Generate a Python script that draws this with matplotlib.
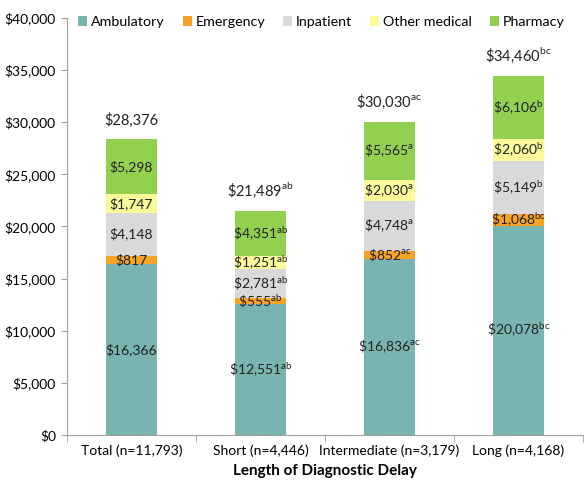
import matplotlib
matplotlib.use("Agg")
import matplotlib.pyplot as plt
import numpy as np

plt.rcParams['font.family'] = ['Lato', 'DejaVu Sans']
plt.rcParams['mathtext.fontset'] = 'custom'
plt.rcParams['mathtext.rm'] = 'Lato'

categories = ["Total (n=11,793)", "Short (n=4,446)", "Intermediate (n=3,179)", "Long (n=4,168)"]
series_names = ["Ambulatory", "Emergency", "Inpatient", "Other medical", "Pharmacy"]
ambulatory = [16366, 12551, 16836, 20078]
emergency = [817, 555, 852, 1068]
inpatient = [4148, 2781, 4748, 5149]
other_medical = [1747, 1251, 2030, 2060]
pharmacy = [5298, 4351, 5565, 6106]
totals = [28376, 21489, 30030, 34460]

amb_sup = ["", "ab", "ac", "bc"]
em_sup = ["", "ab", "ac", "bc"]
inp_sup = ["", "ab", "a", "b"]
oth_sup = ["", "ab", "a", "b"]
ph_sup = ["", "ab", "a", "b"]
tot_sup = ["", "ab", "ac", "bc"]

colors = ["#7AB4B0", "#F7A325", "#D9D9D9", "#FAFA9A", "#92D050"]

series = [ambulatory, emergency, inpatient, other_medical, pharmacy]
sups = [amb_sup, em_sup, inp_sup, oth_sup, ph_sup]

fig = plt.figure(figsize=(5.84, 4.8), dpi=100)
ax = fig.add_axes([0.1147, 0.094, 0.8833, 0.8685])

x = np.arange(len(categories))
bottom = np.zeros(len(categories))


def label(val, sup):
    s = r"\$" + f"{val:,}"
    if sup:
        s += r"$^{\mathregular{" + sup + "}}$"
    return s


for name, vals, col, sp in zip(series_names, series, colors, sups):
    v = np.array(vals, dtype=float)
    ax.bar(x, v, 0.4, bottom=bottom, color=col, label=name, linewidth=0)
    for i in range(len(x)):
        ax.text(x[i], bottom[i] + v[i] / 2, label(vals[i], sp[i]),
                ha="center", va="center", fontsize=10, color="#222222")
    bottom += v

for i in range(len(x)):
    ax.annotate(label(totals[i], tot_sup[i]), (x[i], totals[i]),
                xytext=(0, 8), textcoords="offset points",
                ha="center", va="bottom", fontsize=10.5, color="#222222")

ax.set_xlim(-0.5, len(categories) - 0.5)
ax.set_ylim(0, 40000)
ax.set_yticks(np.arange(0, 40001, 5000))
ax.set_yticklabels([r"\$" + f"{t:,}" for t in range(0, 40001, 5000)], fontsize=10)
ax.set_xticks(x)
ax.set_xticklabels(categories, fontsize=10)
ax.set_xticks(np.arange(-0.5, len(categories)), minor=True)
ax.tick_params(axis="x", which="major", length=0, pad=7)
ax.tick_params(axis="x", which="minor", length=5, color="#A0A0A0")
ax.tick_params(axis="y", length=4, color="#A0A0A0", pad=4)
for s in ["top", "right"]:
    ax.spines[s].set_visible(False)
for s in ["left", "bottom"]:
    ax.spines[s].set_color("#A0A0A0")
ax.set_xlabel("Length of Diagnostic Delay", fontsize=11, fontweight="bold", labelpad=5)

ax.legend(loc="upper left", ncol=5, frameon=False, fontsize=10.3,
          handlelength=0.65, handleheight=0.65, handletextpad=0.25, columnspacing=1.25,
          bbox_to_anchor=(0.005, 1.025), borderaxespad=0.2)

fig.savefig("out.png", dpi=100)
